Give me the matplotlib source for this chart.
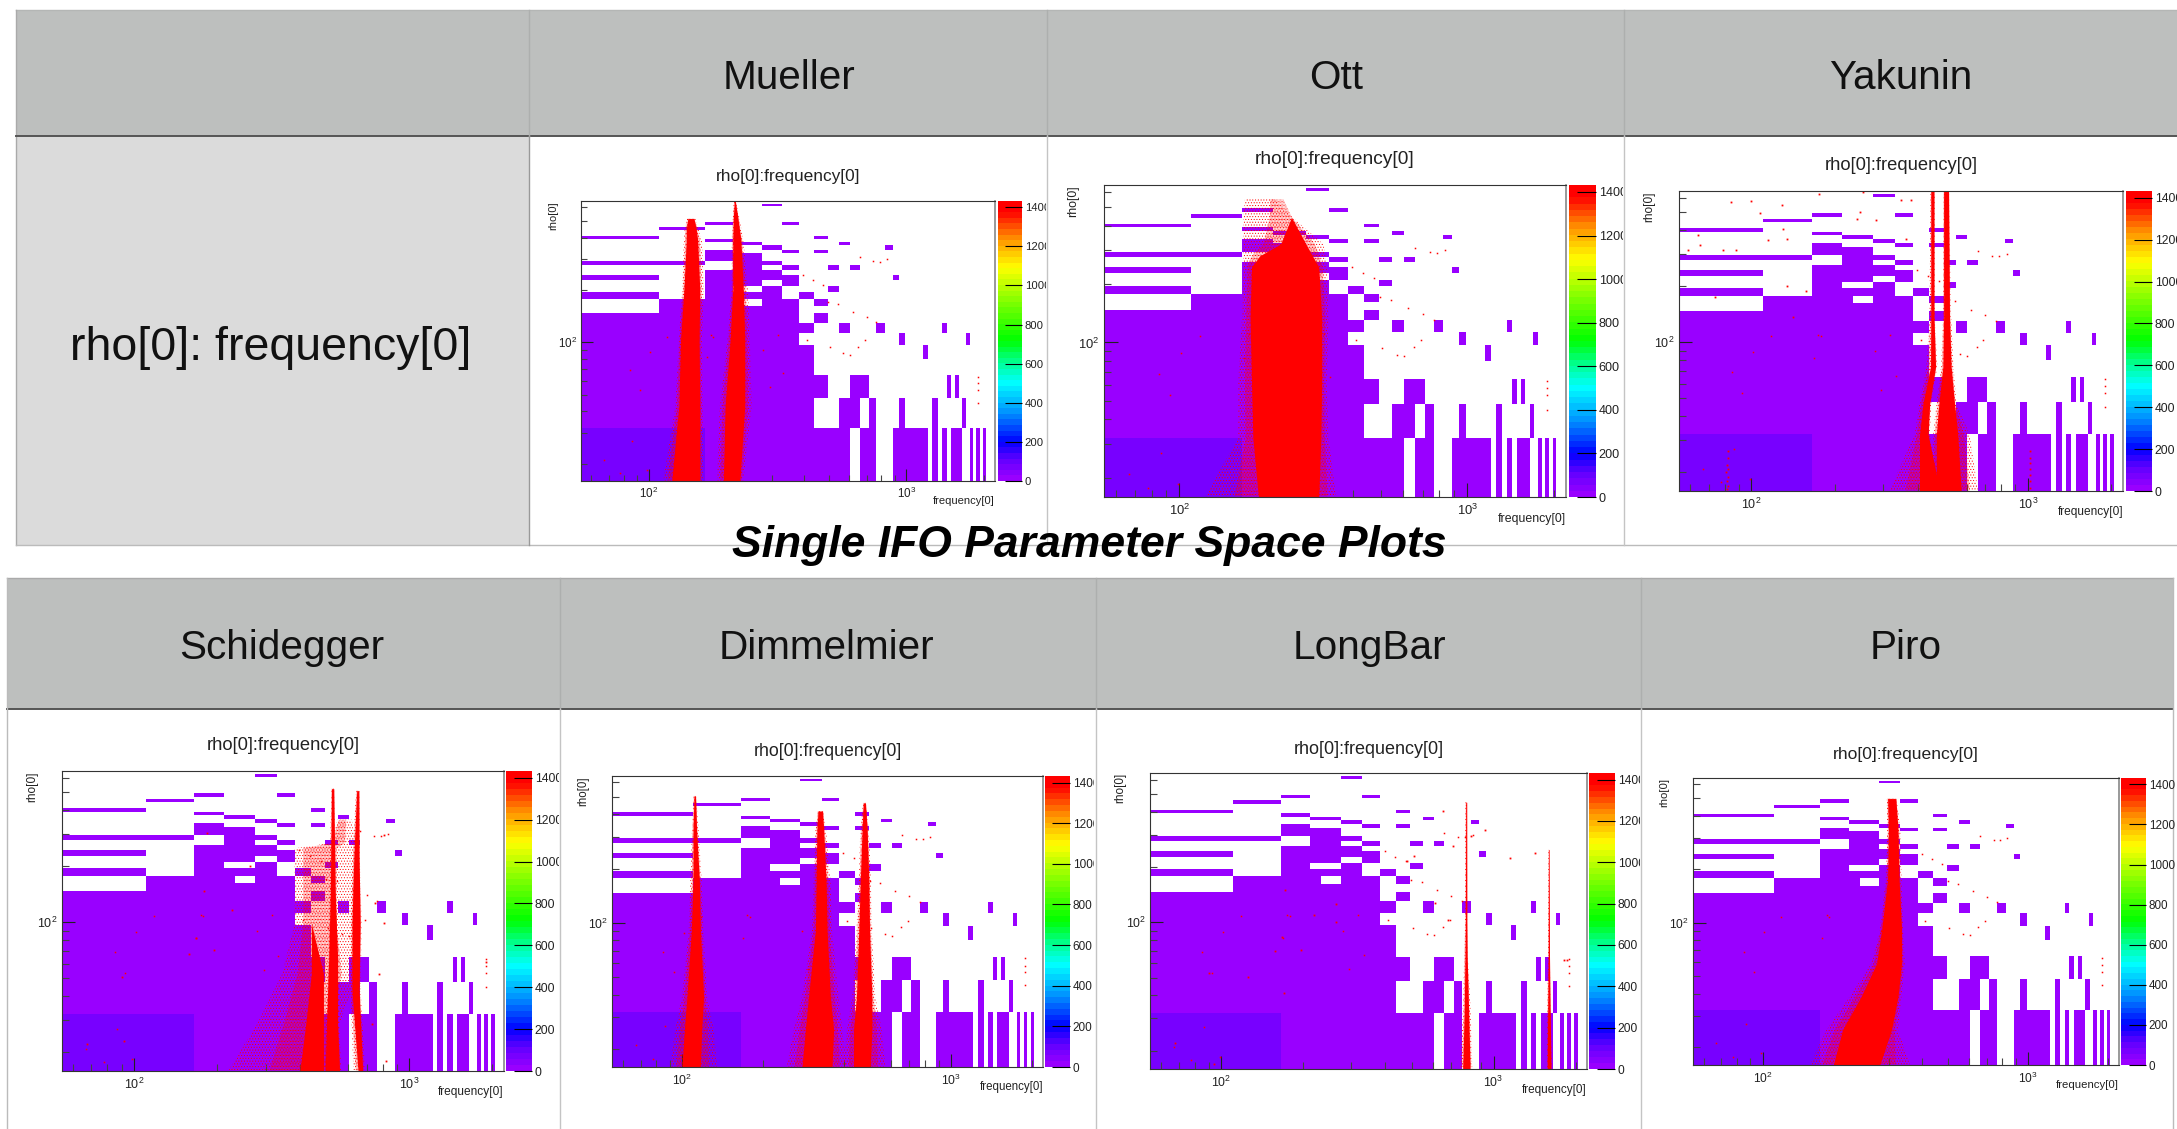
import matplotlib
matplotlib.use("Agg")
import matplotlib.pyplot as plt
from matplotlib.cm import ScalarMappable
from matplotlib.colors import LinearSegmentedColormap, Normalize
from matplotlib.patches import Rectangle
from matplotlib.ticker import FixedLocator, NullFormatter

plt.rcParams["font.family"] = ["Liberation Sans", "DejaVu Sans"]
plt.rcParams["mathtext.default"] = "regular"
plt.rcParams["hatch.linewidth"] = 0.4

# occupied bins shared by all panels: rho low, rho high, frequency ranges
bg_bins = [
    (15.9, 32.2, [(165, 603), (660, 765), (883, 1213), (1260, 1326), (1374, 1433),
                  (1489, 1647), (1759, 1817), (1866, 1929), (1981, 2040)]),
    (32.2, 48.1, [(55, 439), (549, 660), (713, 765), (937, 988), (1260, 1326), (1647, 1707)]),
    (48.1, 64.9, [(55, 495), (603, 713), (1433, 1489), (1539, 1594)]),
    (64.9, 80.6, [(55, 439)]),
    (80.6, 96.5, [(55, 439), (1157, 1213)]),
    (96.5, 113, [(55, 384), (937, 988), (1697, 1759)]),
    (113, 130, [(55, 439), (549, 603), (765, 824), (1374, 1433)]),
    (130, 147, [(55, 384), (439, 495)]),
    (147, 162, [(110, 384)]),
    (162, 178, [(110, 232), (275, 384), (439, 495)]),
    (178, 195, [(55, 110), (165, 330), (384, 439)]),
    (195, 211, [(165, 212), (275, 330), (495, 549)]),
    (211, 228, [(165, 275), (330, 384)]),
    (228, 245, [(55, 110), (165, 384), (883, 937)]),
    (245, 261, [(165, 330)]),
    (261, 278, [(212, 275), (330, 384), (495, 549), (603, 660)]),
    (278, 294, [(55, 165), (212, 330)]),
    (294, 326, [(165, 275)]),
    (326, 342, [(165, 212), (330, 384), (439, 495)]),
    (342, 361, [(275, 330), (824, 883)]),
    (361, 377, [(212, 275), (549, 603)]),
    (377, 393, [(165, 212)]),
    (393, 410, [(55, 110), (439, 495)]),
    (442, 462, [(110, 165)]),
    (474, 494, [(165, 212), (330, 384)]),
    (607, 629, [(275, 330)]),
]
dense_bin = (15.9, 32.2, [(55, 165)])
bin_count = 25
dense_count = 62

# red clouds: rho nodes, outer lo, core lo, core hi, outer hi (frequency)
mueller_bands = [
    ([16, 43, 103, 200, 388, 450, 516],
     [114, 127, 131, 135, 137, 138, 141], [123, 131, 133, 137, 140, 140, 142],
     [158, 158, 157, 158, 155, 153, 150], [163, 162, 161, 164, 161, 156, 152]),
    ([16, 43, 103, 200, 388, 520, 650],
     [184, 189, 202, 210, 210, 212, 214], [195, 198, 207, 212, 212, 213, 215],
     [226, 236, 236, 233, 228, 222, 217], [233, 251, 247, 243, 233, 225, 218]),
]
ott_bands = [
    ([16, 32, 61, 135, 245, 280, 323, 443, 551],
     [123, 160, 160, 165, 167, 167, 167, 167, 169], [188, 180, 178, 176, 178, 190, 225, 245, 245],
     [305, 310, 312, 312, 305, 290, 275, 245, 245], [350, 330, 325, 330, 325, 322, 316, 247, 214]),
]
yakunin_bands = [
    ([16, 32, 47, 74, 137, 651],
     [316, 389, 405, 429, 440, 444], [405, 405, 417, 444, 445, 445],
     [479, 435, 441, 463, 457, 457], [479, 441, 447, 470, 460, 460]),
    ([16, 32, 47, 74, 137, 651],
     [441, 454, 466, 485, 492, 495], [466, 466, 476, 492, 495, 495],
     [573, 557, 542, 527, 520, 516], [659, 615, 550, 538, 527, 518]),
]
schidegger_bands = [
    ([16, 28.6, 53, 99, 250, 267, 356],
     [220, 280, 345, 383, 383, 516, 548], [400, 420, 440, 440, 440, 530, 560],
     [487, 487, 487, 440, 440, 530, 560], [557, 557, 647, 647, 647, 637, 618]),
    ([16, 28.6, 65, 150, 523],
     [490, 500, 510, 512, 520], [494, 500, 509, 516, 521],
     [557, 548, 548, 537, 531], [565, 555, 552, 540, 532]),
    ([16, 43, 99, 226, 510],
     [625, 610, 610, 620, 640], [650, 618, 618, 628, 643],
     [676, 656, 662, 656, 655], [690, 665, 670, 660, 657]),
]
dimmelmier_bands = [
    ([16, 25.5, 39, 91, 172, 326, 505],
     [90, 94, 99.7, 105.6, 107, 108.6, 110], [99.7, 101.7, 104, 108, 109.6, 109.6, 110.5],
     [116.7, 118, 120, 116.7, 115.7, 113, 112], [134.6, 131, 123.6, 120, 118, 115, 112.5]),
    ([16, 25.5, 39, 91, 172, 326, 416],
     [245, 260, 279, 304, 308, 313, 319], [279, 287, 295, 313, 315, 317, 320],
     [361, 366, 356, 346, 343, 336, 333], [410, 394, 382, 361, 356, 343, 334]),
    ([16, 25.5, 39, 91, 172, 326, 462],
     [398, 410, 429, 445, 454, 460, 471], [434, 434, 445, 454, 460, 467, 472],
     [501, 508, 508, 498, 495, 488, 481], [570, 553, 523, 508, 504, 495, 482]),
]
longbar_bands = [
    ([16, 32, 65, 100, 451],
     [755, 770, 780, 785, 788], [770, 780, 785, 788, 790],
     [820, 810, 800, 798, 797], [835, 825, 805, 800, 798]),
    ([16, 32, 65, 249],
     [1570, 1575, 1585, 1590], [1575, 1580, 1588, 1591],
     [1625, 1615, 1605, 1600], [1635, 1620, 1610, 1601]),
]
piro_bands = [
    ([16, 25, 38.5, 59, 91, 175, 333, 499],
     [151, 174, 213, 257, 277, 291, 295, 294], [185, 200, 235, 269, 281, 296, 298, 296],
     [277, 306, 324, 334, 334, 327, 324, 318], [359, 324, 334, 344, 339, 334, 331, 320]),
]

# stray triggers seen in most panels
stray_f = [837, 788, 743, 660, 398, 435, 476, 498, 544, 622, 700, 765, 690, 651, 603, 569, 505, 410,
           1894, 1894, 1894, 1894, 117.7, 101.5, 92.8, 85, 86.5, 67, 77.6, 98.5, 178, 168, 279, 333,
           295, 174.6, 318]
stray_rho = [300, 291, 293, 308, 244, 228, 215, 171, 166, 150, 140, 131, 103, 94.4, 85, 86.5, 93.6, 103,
             63.5, 58, 53.2, 45, 107.8, 88.4, 53.2, 69, 26.9, 21, 17.7, 18.5, 107.8, 82.7, 90.3, 66.3,
             55.6, 110, 110]

yakunin_stray_f = [84.5, 100, 129, 107, 64, 59, 65, 79, 88, 115, 134, 130, 176, 253, 246, 240, 282, 348,
                   378, 363, 158, 134, 73.6, 141, 81.5, 82, 81.5, 82.5, 81, 82, 81.5, 82, 82, 1012, 1012,
                   1012, 1012, 1012, 1012, 1012]
yakunin_stray_rho = [569, 576, 546, 498, 376, 312, 332, 312, 312, 356, 361, 408, 631, 645, 502, 462, 453, 581,
                     581, 361, 190, 200, 175, 137, 16.2, 17, 18, 19, 20, 21, 22, 24, 26, 16.5, 18, 19.5,
                     21, 22.5, 24, 26]
longbar_stray_f = [172, 263, 219, 263, 167, 197, 157, 90, 125, 170, 67.6, 94, 510, 481, 679, 1866, 1812,
                   711, 611, 828, 1422, 1153, 932, 650]
longbar_stray_rho = [151, 126, 110, 101, 83, 71, 69.5, 53, 50.7, 41, 22, 17, 229, 215, 103.6, 62.5, 62.5,
                     259, 127, 294, 239, 224, 320, 403]
schidegger_stray_f = [184, 168, 158, 90, 92, 67.6, 195, 227, 179, 264, 809, 751, 1897, 821, 774, 729, 809]
schidegger_stray_rho = [302, 82, 68, 51, 23, 22.3, 71, 117, 146.6, 200, 296, 127, 61.5, 18, 53, 28.6, 99]

x_major = [100, 1000]
x_minor = [60, 70, 80, 90, 200, 300, 400, 500, 600, 700, 800, 900, 2000]
y_major = [100]
y_minor = [20, 30, 40, 50, 60, 70, 80, 90, 200, 300, 400, 500, 600]
z_ticks = [0, 200, 400, 600, 800, 1000, 1200, 1400]

W, H = 2177, 1129
HEADER = "#bdbfbe"
SIDE = "#dbdbdb"
LINE = "#b4b6b5"

# ROOT rainbow palette
z_max = 1432
palette = [(0, "#9900ff"), (100, "#6000ff"), (190, "#0000ff"), (340, "#0090ff"), (500, "#00ffff"),
           (620, "#00ff80"), (720, "#00ff00"), (920, "#80ff00"), (1100, "#ffff00"), (1250, "#ff9000"),
           (1390, "#ff0000"), (z_max, "#ff0000")]
cmap = LinearSegmentedColormap.from_list("root", [(v / z_max, c) for v, c in palette], N=50)
norm = Normalize(0, z_max)


def draw_panel(fig, box, cbar_x, clip_x, bands, extra=None, title_y=0, title_fs=12):
    x0, x1, y0, y1 = box
    ax = fig.add_axes([x0 / W, 1 - y1 / H, (x1 - x0) / W, (y1 - y0) / H])
    scale = (y1 - y0) / 300
    ax.set_xscale("log")
    ax.set_yscale("log")
    ax.set_xlim(54.7, 2204)
    ax.set_ylim(15.9, 651)

    for lo, hi, ranges in bg_bins:
        spans = [(a, b - a) for a, b in ranges]
        ax.broken_barh(spans, (lo, hi - lo), facecolors=cmap(norm(bin_count)), linewidth=0)
    lo, hi, ranges = dense_bin
    ax.broken_barh([(a, b - a) for a, b in ranges], (lo, hi - lo),
                   facecolors=cmap(norm(dense_count)), linewidth=0)

    for rho, out_lo, core_lo, core_hi, out_hi in bands:
        mid_lo = [(a + b) / 2 for a, b in zip(out_lo, core_lo)]
        mid_hi = [(a + b) / 2 for a, b in zip(out_hi, core_hi)]
        ax.fill_betweenx(rho, out_lo, out_hi, facecolor="none", edgecolor="#ff0000",
                         hatch="......", linewidth=0, zorder=2)
        ax.fill_betweenx(rho, mid_lo, mid_hi, facecolor="none", edgecolor="#ff0000",
                         hatch="............", linewidth=0, zorder=2.05)
        ax.fill_betweenx(rho, core_lo, core_hi, color="#ff0000", linewidth=0, zorder=2.1)

    ax.plot(stray_f, stray_rho, ls="none", marker="s", ms=1.1, mew=0, color="#ff0000", zorder=2.2)
    if extra:
        ax.plot(extra[0], extra[1], ls="none", marker="s", ms=1.3, mew=0, color="#ff0000", zorder=2.2)

    ax.xaxis.set_major_locator(FixedLocator(x_major))
    ax.xaxis.set_minor_locator(FixedLocator(x_minor))
    ax.yaxis.set_major_locator(FixedLocator(y_major))
    ax.yaxis.set_minor_locator(FixedLocator(y_minor))
    ax.xaxis.set_minor_formatter(NullFormatter())
    ax.yaxis.set_minor_formatter(NullFormatter())
    ax.set_xticklabels(["$10^{2}$", "$10^{3}$"])
    ax.set_yticklabels(["$10^{2}$"])
    fs = 9 * scale
    ax.tick_params(axis="both", which="major", direction="in", length=9.5 * scale, width=0.8,
                   labelsize=fs, pad=4 * scale, colors="#222222")
    ax.tick_params(axis="both", which="minor", direction="in", length=5 * scale, width=0.8, color="#444444")
    ax.tick_params(axis="y", which="major", pad=3 * scale)
    for side in ax.spines.values():
        side.set_color("#333333")
        side.set_linewidth(0.8)
    ax.spines["right"].set_color("#888888")
    ax.spines["right"].set_linewidth(1.2)

    ax.text(0.5, 1 + title_y / (y1 - y0), "rho[0]:frequency[0]", transform=ax.transAxes, ha="center",
            va="center", fontsize=title_fs, color="#222222")
    ax.text(1.0, -21 * scale / (y1 - y0), "frequency[0]", transform=ax.transAxes, ha="right",
            va="center", fontsize=fs * 0.95, color="#222222")
    ax.text(-30 * scale / (x1 - x0), 1.0, "rho[0]", transform=ax.transAxes, ha="center", va="top",
            rotation=90, fontsize=fs * 0.95, color="#222222")

    cax = fig.add_axes([cbar_x[0] / W, 1 - y1 / H, (cbar_x[1] - cbar_x[0]) / W, (y1 - y0) / H])
    cb = fig.colorbar(ScalarMappable(norm=norm, cmap=cmap), cax=cax)
    cb.outline.set_visible(False)
    cb.set_ticks(z_ticks)
    cb.ax.tick_params(direction="in", length=13 * scale, width=0.8, labelsize=fs * 0.97, pad=2, color="black",
                      labelcolor="#222222")
    clip = Rectangle((0, 0), clip_x, H, transform=None)
    for lab in cb.ax.get_yticklabels():
        lab.set_clip_path(clip)
        lab.set_clip_on(True)
    return ax


fig = plt.figure(figsize=(W / 100, H / 100), dpi=100, facecolor="white")

bg = fig.add_axes([0, 0, 1, 1], zorder=-1)
bg.set_xlim(0, W)
bg.set_ylim(H, 0)
bg.axis("off")


def cell(x0, y0, x1, y1, color):
    bg.add_patch(Rectangle((x0, y0), x1 - x0, y1 - y0, facecolor=color, edgecolor="none"))


# top table
cell(15.5, 10, W, 136, HEADER)
cell(15.5, 136, 529, 545, SIDE)
bg.plot([15.5, W], [10, 10], color=LINE, lw=1)
bg.plot([15.5, 15.5], [10, 545], color="#aaaaaa", lw=1)
bg.plot([15.5, W], [136, 136], color="#555555", lw=1.4)
bg.plot([15.5, W], [545, 545], color="#bbbbbb", lw=1)
for x in [529, 1047, 1624]:
    bg.plot([x, x], [10, 136], color="#adafae", lw=1)
    bg.plot([x, x], [136, 545], color="#999999" if x == 529 else "#c4c4c4", lw=1)

# bottom table
cell(7, 578, 2173, 709, HEADER)
bg.plot([7, 2173], [578, 578], color="#aaaaaa", lw=1)
bg.plot([7, 2173], [709, 709], color="#555555", lw=1.4)
bg.plot([7, 7], [578, H], color="#bbbbbb", lw=1)
bg.plot([2173, 2173], [578, H], color="#bbbbbb", lw=1)
for x in [559.5, 1095.5, 1641]:
    bg.plot([x, x], [578, 709], color="#adafae", lw=1)
    bg.plot([x, x], [709, H], color="#c4c4c4", lw=1)

top_names = ["Mueller", "Ott", "Yakunin"]
top_x = [789, 1336, 1901]
bottom_names = ["Schidegger", "Dimmelmier", "LongBar", "Piro"]
bottom_x = [282, 826, 1369, 1906]
for name, x in zip(top_names, top_x):
    bg.text(x, 78, name, ha="center", va="center", fontsize=29.2, color="#111111")
for name, x in zip(bottom_names, bottom_x):
    bg.text(x, 648, name, ha="center", va="center", fontsize=29.2, color="#111111")
bg.text(271, 348, "rho[0]: frequency[0]", ha="center", va="center", fontsize=33.5, color="#111111")

draw_panel(fig, (581, 995, 201, 481), (998, 1022), 1046, mueller_bands, title_y=24, title_fs=12.4)
draw_panel(fig, (1104, 1566, 185, 497), (1568.5, 1596), 1623, ott_bands, title_y=25, title_fs=13.8)
draw_panel(fig, (1679, 2123, 191, 491), (2126, 2152), W, yakunin_bands,
           extra=(yakunin_stray_f, yakunin_stray_rho), title_y=26, title_fs=13.2)
draw_panel(fig, (62, 504, 771, 1071), (506, 532), 559, schidegger_bands,
           extra=(schidegger_stray_f, schidegger_stray_rho), title_y=25, title_fs=13.2)
draw_panel(fig, (612, 1043, 776, 1067), (1045, 1070), 1094, dimmelmier_bands, title_y=25, title_fs=12.8)
draw_panel(fig, (1150, 1587, 773, 1069), (1589, 1615), 1640, longbar_bands,
           extra=(longbar_stray_f, longbar_stray_rho), title_y=24, title_fs=13)
draw_panel(fig, (1693, 2119, 778, 1065), (2121, 2146), W, piro_bands, title_y=24, title_fs=12.6)

fig.text(1089 / W, 1 - 545 / H, "Single IFO Parameter Space Plots", ha="center", va="center",
         fontsize=32, fontweight="bold", fontstyle="italic", color="black", zorder=10)

fig.savefig("out.png", dpi=100)
